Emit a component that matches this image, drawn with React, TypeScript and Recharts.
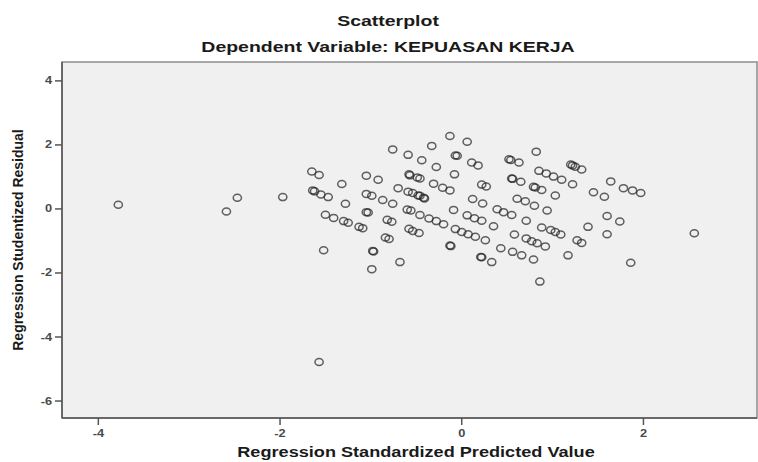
import React from "react";
import { ScatterChart, Scatter, XAxis, YAxis, ReferenceArea } from "recharts";

const predicted: number[] = [
  -3.78, -2.59, -2.47, -1.97, -1.57, -1.65, -1.57, -1.32, -1.64, -1.62,
  -1.55, -1.47, -1.28, -1.05, -0.92, -0.76, -1.05, -0.99, -0.87, -0.76,
  -0.70, -1.05, -1.03, -1.50, -1.41, -1.30, -1.25, -1.13, -1.09, -0.82,
  -0.77, -0.84, -0.80, -1.52, -0.98, -0.97, -0.68, -0.99, -0.59, -0.44,
  -0.33, -0.13, 0.06, -0.28, -0.07, -0.05, 0.11, 0.18, -0.08, -0.58,
  -0.57, -0.49, -0.46, -0.31, -0.21, -0.13, 0.22, 0.27, -0.59, -0.54,
  -0.48, -0.46, -0.42, -0.41, 0.12, 0.23, -0.09, 0.39, -0.60, -0.56,
  -0.46, -0.36, -0.28, -0.20, 0.06, 0.14, 0.22, 0.35, -0.58, -0.54,
  -0.47, -0.07, 0.0, 0.07, 0.15, 0.26, -0.13, -0.12, 0.21, 0.22,
  0.33, 0.43, 0.52, 0.54, 0.63, 0.82, 1.20, 1.22, 1.25, 1.32,
  0.85, 0.93, 1.01, 1.10, 1.22, 0.55, 0.56, 0.65, 0.79, 0.81,
  0.88, 1.03, 1.45, 1.57, 1.64, 1.78, 1.88, 1.97, 0.61, 0.70,
  0.80, 0.94, 0.46, 0.55, 1.60, 1.74, 0.71, 1.39, 0.88, 0.98,
  1.03, 1.09, 0.58, 0.71, 0.77, 0.83, 0.92, 1.27, 1.32, 1.60,
  0.56, 0.66, 0.79, 1.17, 0.86, 1.86, 2.56,
];

const residual: number[] = [
  0.13, -0.08, 0.35, 0.37, -4.78, 1.17, 1.06, 0.78, 0.58, 0.55,
  0.45, 0.37, 0.16, 1.04, 0.91, 1.86, 0.47, 0.41, 0.28, 0.16,
  0.65, -0.10, -0.11, -0.18, -0.28, -0.38, -0.43, -0.56, -0.60, -0.34,
  -0.40, -0.89, -0.94, -1.29, -1.31, -1.33, -1.66, -1.88, 1.69, 1.52,
  1.97, 2.28, 2.10, 1.31, 1.67, 1.66, 1.45, 1.36, 1.08, 1.08,
  1.05, 0.98, 0.95, 0.79, 0.66, 0.58, 0.76, 0.70, 0.54, 0.50,
  0.42, 0.41, 0.35, 0.33, 0.31, 0.17, -0.03, -0.01, -0.02, -0.05,
  -0.19, -0.30, -0.38, -0.48, -0.20, -0.29, -0.37, -0.54, -0.62, -0.69,
  -0.75, -0.63, -0.72, -0.79, -0.87, -0.98, -1.14, -1.16, -1.50, -1.51,
  -1.66, -1.23, 1.55, 1.53, 1.45, 1.79, 1.39, 1.36, 1.32, 1.23,
  1.19, 1.11, 1.01, 0.91, 0.77, 0.95, 0.94, 0.85, 0.69, 0.67,
  0.59, 0.42, 0.52, 0.38, 0.86, 0.65, 0.58, 0.50, 0.32, 0.24,
  0.10, -0.05, -0.10, -0.19, -0.22, -0.39, -0.37, -0.56, -0.58, -0.66,
  -0.72, -0.80, -0.80, -0.92, -1.01, -1.07, -1.17, -0.98, -1.06, -0.79,
  -1.34, -1.45, -1.58, -1.45, -2.27, -1.68, -0.76,
];

const xTicks: number[] = [-4, -2, 0, 2];
const yTicks: number[] = [-6, -4, -2, 0, 2, 4];

const X_MIN = -4.4;
const X_MAX = 3.25;
const Y_MIN = -6.53;
const Y_MAX = 4.59;

const data = predicted.map((x, i) => ({ x, y: residual[i] }));

const FONT = "'Liberation Sans', Arial, sans-serif";
const STRETCH = 1.28;

const Ring = (p: any) => {
  if (p == null || p.cx == null || p.cy == null) return <g />;
  return (
    <ellipse
      cx={p.cx}
      cy={p.cy}
      rx={4.1}
      ry={3.5}
      fill="none"
      stroke="#262626"
      strokeOpacity={0.72}
      strokeWidth={1.5}
    />
  );
};

const XTick = (p: any) => {
  const { x, y, payload } = p;
  return (
    <text
      transform={`translate(${x},${y + 10}) scale(${STRETCH},1)`}
      textAnchor="middle"
      fontFamily={FONT}
      fontWeight={700}
      fontSize={10}
      fill="#4a4a4a"
    >
      {payload.value}
    </text>
  );
};

const YTick = (p: any) => {
  const { x, y, payload } = p;
  return (
    <text
      transform={`translate(${x},${y + 3.5}) scale(${STRETCH},1)`}
      textAnchor="end"
      fontFamily={FONT}
      fontWeight={700}
      fontSize={10}
      fill="#4a4a4a"
    >
      {payload.value}
    </text>
  );
};

export default function App() {
  return (
    <div style={{ position: "absolute", left: 0, top: 0, width: 758, height: 462, background: "#ffffff" }}>
      <ScatterChart width={758} height={462} margin={{ top: 62, right: 1, bottom: 14, left: 8 }}>
        <ReferenceArea
          x1={X_MIN}
          x2={X_MAX}
          y1={Y_MIN}
          y2={Y_MAX}
          fill="#f0f0f0"
          fillOpacity={1}
          stroke="#8c8c8c"
          strokeWidth={1.5}
          ifOverflow="visible"
        />
        <XAxis
          type="number"
          dataKey="x"
          domain={[X_MIN, X_MAX]}
          ticks={xTicks}
          allowDataOverflow
          height={30}
          tickSize={7}
          tickMargin={2}
          tick={XTick}
          axisLine={{ stroke: "#555555", strokeWidth: 1.5 }}
          tickLine={{ stroke: "#555555", strokeWidth: 1.5 }}
        />
        <YAxis
          type="number"
          dataKey="y"
          domain={[Y_MIN, Y_MAX]}
          ticks={yTicks}
          allowDataOverflow
          width={54}
          tickSize={7}
          tickMargin={3}
          tick={YTick}
          axisLine={{ stroke: "#555555", strokeWidth: 1.5 }}
          tickLine={{ stroke: "#555555", strokeWidth: 1.5 }}
        />
        <Scatter data={data} shape={Ring} isAnimationActive={false} />
      </ScatterChart>
      <svg
        width={758}
        height={462}
        style={{ position: "absolute", left: 0, top: 0, pointerEvents: "none" }}
      >
        <text
          transform={`translate(388,26) scale(1.3,1)`}
          textAnchor="middle"
          fontFamily={FONT}
          fontWeight={700}
          fontSize={15}
          fill="#1a1a1a"
        >
          Scatterplot
        </text>
        <text
          transform={`translate(388,52) scale(1.3,1)`}
          textAnchor="middle"
          fontFamily={FONT}
          fontWeight={700}
          fontSize={15}
          fill="#1a1a1a"
        >
          Dependent Variable: KEPUASAN KERJA
        </text>
        <text
          transform={`translate(416,457) scale(1.25,1)`}
          textAnchor="middle"
          fontFamily={FONT}
          fontWeight={700}
          fontSize={14.5}
          fill="#1a1a1a"
        >
          Regression Standardized Predicted Value
        </text>
        <text
          transform="translate(23,240) scale(1.1,1) rotate(-90)"
          textAnchor="middle"
          fontFamily={FONT}
          fontWeight={700}
          fontSize={14}
          fill="#1a1a1a"
        >
          Regression Studentized Residual
        </text>
      </svg>
    </div>
  );
}
